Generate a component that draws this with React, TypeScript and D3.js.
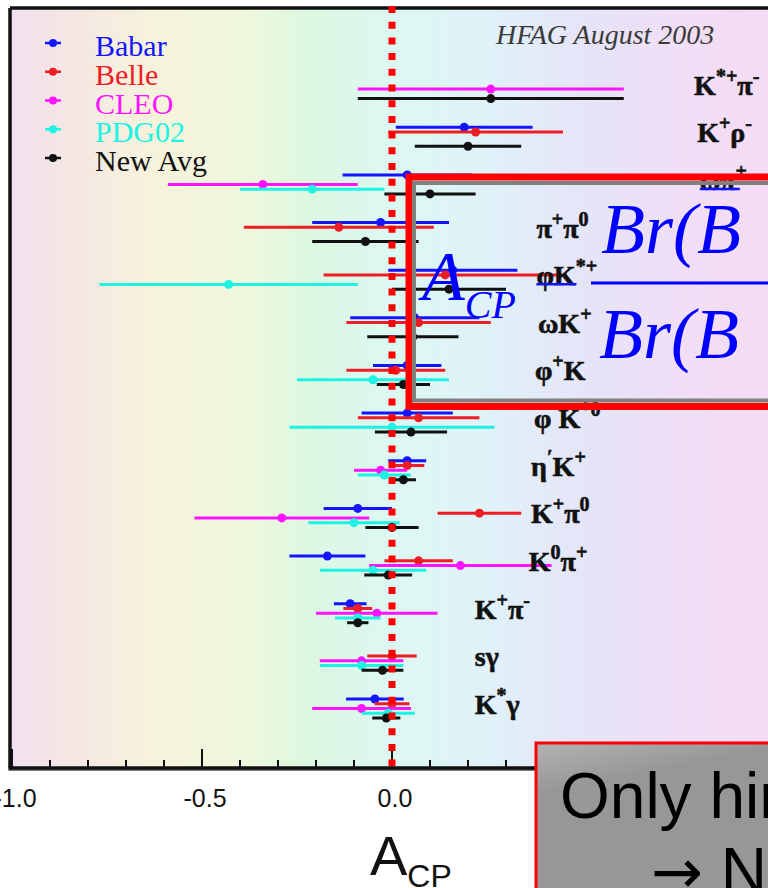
import React from "react";
import * as d3 from "d3";

// Decay modes, top to bottom (^{...} marks a superscript)
const modes = [
  "K^{*+}π^{-}",
  "K^{+}ρ^{-}",
  "ωπ^{+}",
  "π^{+}π^{0}",
  "φK^{*+}",
  "ωK^{+}",
  "φ^{+}K",
  "φ K^{*0}",
  "η^{′}K^{+}",
  "K^{+}π^{0}",
  "K^{0}π^{+}",
  "K^{+}π^{-}",
  "sγ",
  "K^{*}γ",
];

// Where each mode label starts, in A_CP units
const labelAt = [0.795, 0.803, 0.81, 0.38, 0.38, 0.384, 0.376, 0.374, 0.366, 0.366, 0.36, 0.218, 0.218, 0.218];

const experiments = ["Babar", "Belle", "CLEO", "PDG02", "New Avg"];
const experimentColors = ["#1414ff", "#ee1c25", "#ff14ff", "#1ef2e2", "#111111"];

// A_CP central values and symmetric errors per experiment (null = no measurement)
const babarValue = [null, 0.19, 0.04, -0.03, 0.16, 0.06, 0.04, 0.04, 0.04, -0.09, -0.17, -0.11, null, -0.045];
const babarError = [null, 0.18, 0.17, 0.18, 0.17, 0.17, 0.09, 0.12, 0.05, 0.09, 0.1, 0.043, null, 0.076];
const belleValue = [null, 0.22, null, -0.14, 0.14, 0.07, 0.01, 0.07, 0.04, 0.23, 0.07, -0.09, 0.0, 0.0];
const belleError = [null, 0.23, null, 0.25, 0.32, 0.19, 0.13, 0.16, 0.045, 0.11, 0.09, 0.038, 0.065, 0.046];
const cleoValue = [0.26, null, -0.34, null, null, null, null, null, -0.03, -0.29, 0.18, -0.04, -0.08, -0.08];
const cleoError = [0.35, null, 0.25, null, null, null, null, null, 0.07, 0.23, 0.24, 0.16, 0.11, 0.13];
const pdgValue = [null, null, -0.21, null, -0.43, null, -0.05, 0.0, -0.02, -0.1, -0.05, -0.09, -0.08, -0.01];
const pdgError = [null, null, 0.19, null, 0.34, null, 0.2, 0.27, 0.07, 0.12, 0.14, 0.06, 0.11, 0.07];
const avgValue = [0.26, 0.2, 0.1, -0.07, 0.15, 0.055, 0.03, 0.05, 0.03, 0.0, -0.01, -0.09, -0.025, -0.015];
const avgError = [0.35, 0.14, 0.12, 0.14, 0.15, 0.12, 0.07, 0.095, 0.033, 0.07, 0.063, 0.028, 0.055, 0.037];

const tickValues = d3.range(-10, 11).map((i) => i / 10);
const majorTicks = [-1, -0.5, 0, 0.5, 1];

// Labels that carry a blue link underline on the slide
const linkedModes = ["ωπ^{+}", "φK^{*+}"];

const series = [
  { values: babarValue, errors: babarError },
  { values: belleValue, errors: belleError },
  { values: cleoValue, errors: cleoError },
  { values: pdgValue, errors: pdgError },
  { values: avgValue, errors: avgError },
].map((s, k) => ({ ...s, name: experiments[k], color: experimentColors[k] }));

function parseLabel(s: string) {
  const parts: { t: string; sup: boolean }[] = [];
  const re = /\^\{([^}]*)\}/g;
  let last = 0;
  let m: RegExpExecArray | null;
  while ((m = re.exec(s))) {
    if (m.index > last) parts.push({ t: s.slice(last, m.index), sup: false });
    parts.push({ t: m[1], sup: true });
    last = re.lastIndex;
  }
  if (last < s.length) parts.push({ t: s.slice(last), sup: false });
  return parts;
}

function ModeLabel({ text, x, y }: { text: string; x: number; y: number }) {
  const parts = parseLabel(text);
  let raised = false;
  return (
    <text
      x={x}
      y={y}
      fontFamily="'Liberation Serif', serif"
      fontWeight="bold"
      fontSize={28}
      fill="#111"
      stroke="#111"
      strokeWidth={0.6}
    >
      {parts.map((p, i) => {
        let dy = 0;
        if (p.sup && !raised) dy = -12;
        if (!p.sup && raised) dy = 12;
        raised = p.sup;
        return (
          <tspan key={i} dy={dy} fontSize={p.sup ? 20 : 28}>
            {p.t}
          </tspan>
        );
      })}
    </text>
  );
}

export default function App() {
  const W = 768;
  const H = 888;
  const frame = { left: 10, top: 8, bottom: 768, right: 800 };

  const x = d3.scaleLinear().domain([-1, 1]).range([12, 772]);
  const yRow = d3.scalePoint<string>().domain(modes).range([79.6, 699]);
  const yOff = d3.scalePoint<string>().domain(experiments).range([0, 19]);
  const yLegend = d3.scalePoint<string>().domain(experiments).range([43, 158]);

  const bgStops: [number, string][] = [
    [0, "#f1e0f0"],
    [0.07, "#f4e6e4"],
    [0.18, "#f6f2dc"],
    [0.3, "#f0f8dc"],
    [0.4, "#dcf8e2"],
    [0.5, "#dcf8f2"],
    [0.62, "#e0f2f8"],
    [0.76, "#e6e4f8"],
    [0.9, "#f2def6"],
    [1, "#f4dcf4"],
  ];

  return (
    <svg
      width={W}
      height={H}
      viewBox={`0 0 ${W} ${H}`}
      style={{ position: "absolute", left: 0, top: 0, background: "#fff" }}
    >
      <defs>
        <linearGradient id="plotBg" gradientUnits="userSpaceOnUse" x1={frame.left} x2={772} y1={0} y2={0}>
          {bgStops.map(([o, c]) => (
            <stop key={o} offset={o} stopColor={c} />
          ))}
        </linearGradient>
        <linearGradient id="noteBg" gradientUnits="userSpaceOnUse" x1={0} y1={744} x2={30} y2={895}>
          <stop offset={0} stopColor="#ececec" />
          <stop offset={1} stopColor="#979797" />
        </linearGradient>
      </defs>

      {/* plot area */}
      <rect
        x={frame.left}
        y={frame.top}
        width={frame.right - frame.left}
        height={frame.bottom - frame.top}
        fill="url(#plotBg)"
      />

      {/* frame */}
      <line x1={frame.left} x2={frame.right} y1={frame.top} y2={frame.top} stroke="#111" strokeWidth={3.5} />
      <line x1={frame.left} x2={frame.left} y1={frame.top} y2={frame.bottom} stroke="#111" strokeWidth={3.5} />
      <line x1={frame.left - 1.5} x2={frame.right} y1={frame.bottom + 1} y2={frame.bottom + 1} stroke="#777" strokeWidth={4} />
      <line x1={frame.left - 1.5} x2={frame.right} y1={frame.bottom} y2={frame.bottom} stroke="#111" strokeWidth={3.5} />

      {/* ticks */}
      {tickValues.map((t) => {
        const major = majorTicks.some((m) => Math.abs(m - t) < 1e-9);
        return (
          <line
            key={t}
            x1={x(t)}
            x2={x(t)}
            y1={frame.bottom}
            y2={frame.bottom - (major ? 19 : 8)}
            stroke="#111"
            strokeWidth={2}
          />
        );
      })}
      {majorTicks.map((t) => (
        <text
          key={t}
          x={x(t) + 3}
          y={807}
          textAnchor="middle"
          fontFamily="'Liberation Sans', Arial, sans-serif"
          fontSize={25}
          fill="#111"
        >
          {t.toFixed(1)}
        </text>
      ))}

      {/* axis title */}
      <text x={370} y={875} fontFamily="'Liberation Sans', Arial, sans-serif" fontSize={56} fill="#111">
        A
        <tspan dy={12} fontSize={32}>
          CP
        </tspan>
      </text>

      {/* HFAG tag */}
      <text
        x={496}
        y={44}
        fontFamily="'Liberation Serif', serif"
        fontStyle="italic"
        fontSize={28}
        fill="#3a3a3a"
      >
        HFAG August 2003
      </text>

      {/* legend */}
      {series.map((s) => (
        <g key={s.name}>
          <line
            x1={45}
            x2={61}
            y1={yLegend(s.name)!}
            y2={yLegend(s.name)!}
            stroke={s.color}
            strokeWidth={2.5}
          />
          <circle cx={53} cy={yLegend(s.name)!} r={4} fill={s.color} />
          <text
            x={95}
            y={yLegend(s.name)! + 13}
            fontFamily="'Liberation Serif', serif"
            fontSize={30}
            fill={s.color}
          >
            {s.name}
          </text>
        </g>
      ))}

      {/* measurements */}
      {series.map((s) =>
        modes.map((m, i) => {
          const v = s.values[i];
          const e = s.errors[i];
          if (v === null || e === null) return null;
          const cy = yRow(m)! + yOff(s.name)!;
          return (
            <g key={s.name + m}>
              <line x1={x(v - e)} x2={x(v + e)} y1={cy} y2={cy} stroke={s.color} strokeWidth={3} />
              <circle cx={x(v)} cy={cy} r={4.5} fill={s.color} />
            </g>
          );
        })
      )}

      {/* mode labels */}
      {modes.map((m, i) => (
        <ModeLabel key={m} text={m} x={x(labelAt[i])} y={yRow(m)! + 15} />
      ))}
      {modes
        .filter((m) => linkedModes.includes(m))
        .map((m) => {
          const i = modes.indexOf(m);
          return (
            <line
              key={"u" + m}
              x1={x(labelAt[i])}
              x2={x(labelAt[i]) + 40}
              y1={yRow(m)! + 14}
              y2={yRow(m)! + 14}
              stroke="#1414ff"
              strokeWidth={2.5}
            />
          );
        })}

      {/* A_CP = 0 reference */}
      <line
        x1={x(0)}
        x2={x(0)}
        y1={6}
        y2={frame.bottom - 2}
        stroke="#ff0000"
        strokeWidth={7}
        strokeDasharray="7 8.7"
      />

      {/* definition box */}
      <rect x={409} y={177} width={500} height={229.5} fill="none" stroke="#ff0000" strokeWidth={7} />
      <rect x={414} y={183} width={480} height={217.5} fill="none" stroke="#808080" strokeWidth={4} />
      <text x={422} y={300} fontFamily="'Liberation Serif', serif" fontStyle="italic" fontSize={70} fill="#0000ff">
        A
        <tspan dy={18} fontSize={40}>
          CP
        </tspan>
      </text>
      <text x={601} y={253} fontFamily="'Liberation Serif', serif" fontStyle="italic" fontSize={72} fill="#0000ff">
        Br(B → f) − Br(B̄ → f̄)
      </text>
      <line x1={591} x2={900} y1={283} y2={283} stroke="#0000ff" strokeWidth={3} />
      <text x={599} y={358} fontFamily="'Liberation Serif', serif" fontStyle="italic" fontSize={72} fill="#0000ff">
        Br(B → f) + Br(B̄ → f̄)
      </text>

      {/* note box */}
      <rect x={536} y={743} width={400} height={200} fill="url(#noteBg)" stroke="#ff0000" strokeWidth={3} />
      <text x={560} y={818} fontFamily="'Liberation Sans', Arial, sans-serif" fontSize={64} fill="#000">
        Only hints of direct CPV
      </text>
      <text x={651} y={893} fontFamily="'Liberation Sans', Arial, sans-serif" fontSize={64} fill="#000">
        <tspan fontFamily="'DejaVu Sans', sans-serif" fontSize={62}>
          →
        </tspan>{" "}
        Need more data
      </text>
    </svg>
  );
}
